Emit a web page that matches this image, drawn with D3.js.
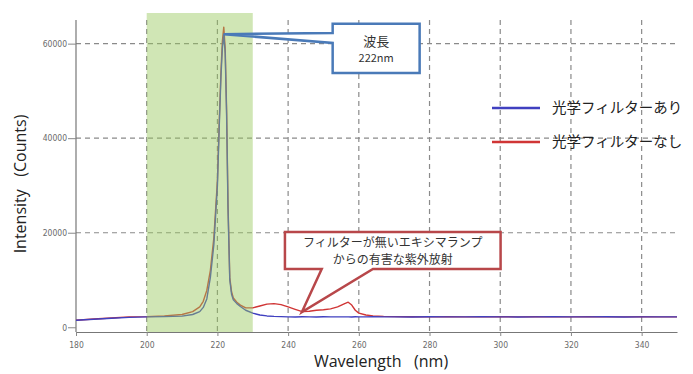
<!DOCTYPE html>
<html>
<head>
<meta charset="utf-8">
<script src="https://cdn.jsdelivr.net/npm/d3@7"></script>
<style>
  body{margin:0;background:#fff;}
  text{white-space:pre;}
</style>
</head>
<body>
<svg id="chart" width="693" height="374"></svg>
<script>
// 波長 (nm)
var wavelengths = [180,185,190,195,200,205,210,213,215,216,217,218,219,220,220.5,221,221.4,221.8,222.2,222.6,223,223.5,224,224.5,225.5,226.5,228,230,232,234,236,238,240,242,244,246,248,250,252,254,256,257,258,259,260,262,264,267,270,275,280,285,290,295,300,305,310,315,320,325,330,335,340,345,350];

// 光学フィルターあり
var withFilter = [1500,1700,1900,2100,2200,2250,2350,2700,3300,4200,6000,10500,17500,30000,42000,53000,59000,62000,58000,45000,25000,10000,7000,5800,5000,4400,3600,3000,2600,2400,2300,2250,2200,2180,2220,2200,2170,2230,2200,2190,2210,2200,2180,2220,2200,2190,2230,2200,2210,2180,2220,2200,2190,2230,2200,2180,2210,2220,2190,2200,2230,2180,2210,2200,2190];

// 光学フィルターなし
var withoutFilter = [1500,1750,1950,2200,2250,2400,2700,3300,4300,5500,7800,12000,19000,31000,43000,54000,60500,63500,59000,46000,26000,10500,7500,6200,5300,4700,4100,4100,4500,4900,5000,4800,4300,3800,3300,3400,3600,3700,3900,4300,5000,5300,4700,3600,3000,2600,2400,2300,2250,2230,2200,2240,2210,2190,2230,2200,2220,2190,2210,2230,2200,2190,2220,2210,2200];

var xTicks = [180,200,220,240,260,280,300,320,340];
var yTicks = [0,20000,40000,60000];
var seriesNames = ["光学フィルターあり","光学フィルターなし"];
var seriesColors = ["#4040c0","#d03535"];

var svg = d3.select("#chart");

var x = d3.scaleLinear().domain([180,350]).range([76,677]);
var y = d3.scaleLinear().domain([-1000,65000]).range([332,20]);

// グリッド
var grid = svg.append("g").attr("class","grid");
grid.selectAll("line.vx")
  .data(xTicks.slice(1))
  .enter()
  .append("line")
  .attr("class","vx")
  .attr("x1",function(d){return x(d);})
  .attr("x2",function(d){return x(d);})
  .attr("y1",y(65000))
  .attr("y2",y(-1000))
  .attr("stroke","#8a8a8a")
  .attr("stroke-width",1.2)
  .attr("stroke-dasharray","5,4");
grid.selectAll("line.hy")
  .data(yTicks.slice(1))
  .enter()
  .append("line")
  .attr("class","hy")
  .attr("x1",x(180))
  .attr("x2",x(350))
  .attr("y1",function(d){return y(d);})
  .attr("y2",function(d){return y(d);})
  .attr("stroke","#8a8a8a")
  .attr("stroke-width",1.2)
  .attr("stroke-dasharray","5,4");

// 軸
var xAxis = svg.append("g")
  .attr("transform","translate(0,"+y(-1000)+")")
  .call(d3.axisBottom(x).tickValues(xTicks).tickSize(4).tickSizeOuter(0).tickPadding(6));
var yAxis = svg.append("g")
  .attr("transform","translate("+x(180)+",0)")
  .call(d3.axisLeft(y).tickValues(yTicks).tickSize(8).tickSizeOuter(0).tickPadding(1).tickFormat(d3.format("d")));
[xAxis,yAxis].forEach(function(a){
  a.select(".domain").attr("stroke","#777").attr("stroke-width",1.2);
  a.selectAll(".tick line").attr("stroke","#888");
  a.selectAll(".tick text")
    .attr("fill","#6a6a6a")
    .style("font-family","'DejaVu Sans Condensed','DejaVu Sans',sans-serif")
    .style("font-size","8.5px");
});
yAxis.select(".domain").attr("d","M0,"+y(-1000)+"V"+y(65000));

// データ線
var line = d3.line()
  .x(function(d){return x(d[0]);})
  .y(function(d){return y(d[1]);});

var series = [withoutFilter,withFilter];
var cols = [seriesColors[1],seriesColors[0]];
svg.append("g")
  .selectAll("path")
  .data(series)
  .enter()
  .append("path")
  .attr("d",function(d){return line(d3.zip(wavelengths,d));})
  .attr("fill","none")
  .attr("stroke",function(d,i){return cols[i];})
  .attr("stroke-width",1.4)
  .attr("stroke-linejoin","round");

// 222nm 付近の帯 (半透明)
svg.append("rect")
  .attr("x",x(200))
  .attr("y",13)
  .attr("width",x(230)-x(200))
  .attr("height",y(-1000)-13)
  .attr("fill","rgb(150,200,90)")
  .attr("opacity",0.45);

// 吹き出し: 波長 222nm
var bx0 = x(252.6), bx1 = x(277.2), by0 = y(64200), by1 = y(53800);
var tip1 = [x(221.8), y(62000)];
svg.append("path")
  .attr("d","M"+bx0+","+by0+"H"+bx1+"V"+by1+"H"+bx0+"V"+y(60140)+"L"+tip1[0]+","+tip1[1]+"L"+bx0+","+y(62250)+"Z")
  .attr("fill","#fff")
  .attr("stroke","#4a7ab8")
  .attr("stroke-width",2.5)
  .attr("stroke-linejoin","miter");
svg.append("text")
  .attr("x",(bx0+bx1)/2)
  .attr("y",by0+22)
  .attr("text-anchor","middle")
  .style("font-family","'Noto Sans CJK JP'")
  .style("font-size","13px")
  .attr("fill","#333")
  .text("波長");
svg.append("text")
  .attr("x",(bx0+bx1)/2)
  .attr("y",by0+38)
  .attr("text-anchor","middle")
  .style("font-family","'Noto Sans CJK JP'")
  .style("font-size","11px")
  .attr("fill","#333")
  .text("222nm");

// 吹き出し: 有害な紫外放射
var cx0 = x(239.1), cx1 = x(300.1), cy0 = y(20150), cy1 = y(12330);
var tip2 = [x(243.9), y(3230)];
svg.append("path")
  .attr("d","M"+cx0+","+cy0+"H"+cx1+"V"+cy1+"H"+x(264)+"L"+tip2[0]+","+tip2[1]+"L"+x(249.5)+","+cy1+"H"+cx0+"Z")
  .attr("fill","#fff")
  .attr("stroke","#b8474a")
  .attr("stroke-width",2.5)
  .attr("stroke-linejoin","miter");
svg.append("text")
  .attr("x",(cx0+cx1)/2)
  .attr("y",cy0+15)
  .attr("text-anchor","middle")
  .style("font-family","'Noto Sans CJK JP'")
  .style("font-size","12px")
  .attr("fill","#333")
  .text("フィルターが無いエキシマランプ");
svg.append("text")
  .attr("x",(cx0+cx1)/2)
  .attr("y",cy0+32)
  .attr("text-anchor","middle")
  .style("font-family","'Noto Sans CJK JP'")
  .style("font-size","12px")
  .attr("fill","#333")
  .text("からの有害な紫外放射");

// 凡例
var legend = svg.append("g")
  .selectAll("g")
  .data(seriesNames)
  .enter()
  .append("g")
  .attr("transform",function(d,i){return "translate(492,"+(108+i*34)+")";});
legend.append("line")
  .attr("x1",0).attr("x2",48)
  .attr("stroke",function(d,i){return seriesColors[i];})
  .attr("stroke-width",2.5);
legend.append("text")
  .attr("x",60)
  .attr("dy","0.35em")
  .style("font-family","'Noto Sans CJK JP'")
  .style("font-size","14.5px")
  .attr("fill","#222")
  .text(function(d){return d;});

// 軸タイトル
svg.append("text")
  .attr("transform","translate(26,184) rotate(-90)")
  .attr("text-anchor","middle")
  .style("font-family","'Open Sans'")
  .style("font-size","16px")
  .attr("fill","#222")
  .text("Intensity   (Counts)");
svg.append("text")
  .attr("x",381)
  .attr("y",367)
  .attr("text-anchor","middle")
  .style("font-family","'Open Sans'")
  .style("font-size","16px")
  .attr("fill","#222")
  .text("Wavelength   (nm)");
</script>
</body>
</html>
